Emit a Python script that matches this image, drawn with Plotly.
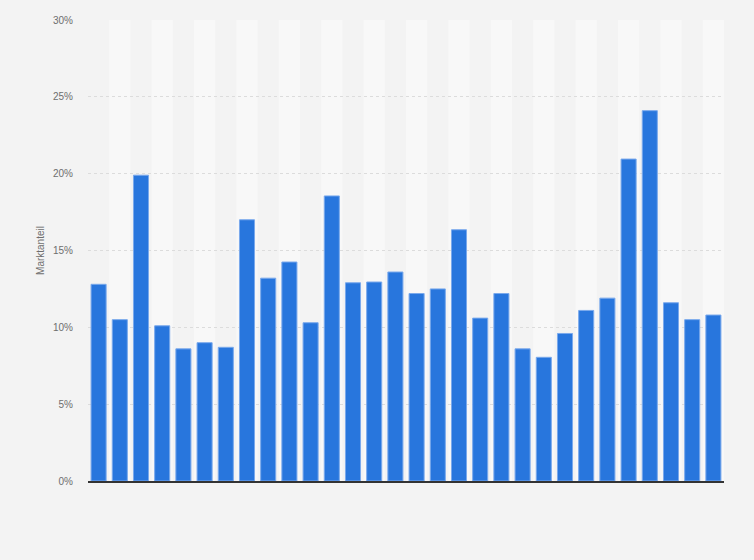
import plotly.graph_objects as go

# ---------- Data ----------
categories = [str(i) for i in range(1, 31)]
market_share = [
    12.8, 10.5, 19.9, 10.1, 8.6, 9.0, 8.7, 17.0, 13.2, 14.25,
    10.3, 18.55, 12.9, 12.95, 13.6, 12.2, 12.5, 16.35, 10.6, 12.2,
    8.6, 8.05, 9.6, 11.1, 11.9, 20.95, 24.1, 11.6, 10.5, 10.8,
]
y_ticks = [0, 5, 10, 15, 20, 25, 30]
y_tick_labels = [f"{v}%" for v in y_ticks]

BG = "#f3f3f3"
BAND = "#f8f8f8"
BAR = "#2876dd"

fig = go.Figure()
fig.add_trace(go.Bar(
    x=categories,
    y=market_share,
    marker=dict(color=BAR, line=dict(color="#7aa9ec", width=1)),
    hovertemplate="%{y:.1f}%<extra></extra>",
))

# alternating column bands behind the bars
for i, cat in enumerate(categories):
    if i % 2 == 1:
        fig.add_shape(
            type="rect", xref="x", yref="paper",
            x0=i - 0.5, x1=i + 0.5, y0=0, y1=1,
            fillcolor=BAND, line_width=0, layer="below",
        )

fig.update_layout(
    width=754,
    height=560,
    margin=dict(l=88, r=30, t=20, b=79, autoexpand=False),
    paper_bgcolor=BG,
    plot_bgcolor=BG,
    bargap=0.29,
    showlegend=False,
    font=dict(family="Liberation Sans, Arial, sans-serif", size=10, color="#6e6e6e"),
)
fig.update_xaxes(
    showticklabels=False,
    showgrid=False,
    showline=True,
    linecolor="#333333",
    linewidth=1.5,
    ticks="",
    range=[-0.5, len(categories) - 0.5],
)
fig.update_yaxes(
    range=[0, 30],
    tickvals=y_ticks,
    ticktext=y_tick_labels,
    showgrid=True,
    gridcolor="#dcdcdc",
    griddash="dot",
    gridwidth=1,
    zeroline=False,
    ticklabelstandoff=14,
    automargin=False,
    title=dict(text="Marktanteil", font=dict(size=10, color="#6e6e6e"), standoff=6),
)

# page body has a default 8px margin; drop it so the figure fills the window
fig.write_html(
    "out.html",
    config={"displayModeBar": False},
    post_script="document.body.style.margin='0';",
)
